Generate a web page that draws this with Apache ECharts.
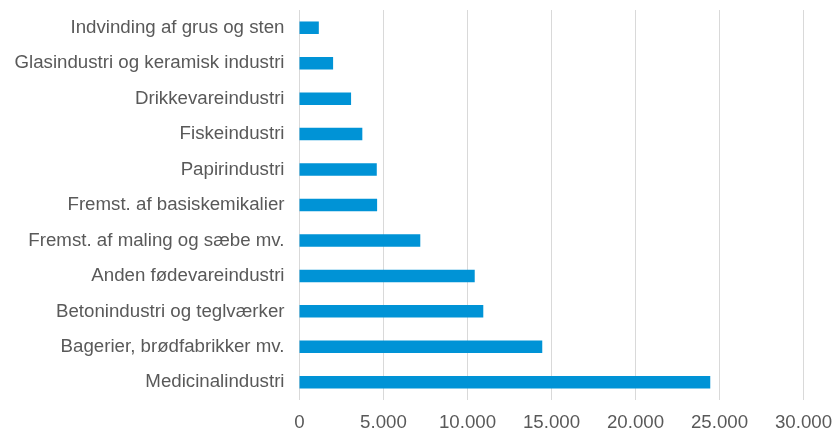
<!DOCTYPE html>
<html>
<head>
<meta charset="utf-8">
<script src="https://cdn.jsdelivr.net/npm/echarts@6/dist/echarts.min.js"></script>
<style>
  html, body { margin: 0; padding: 0; background: #fff; }
  #chart { width: 834px; height: 430px; }
</style>
</head>
<body>
<div id="chart"></div>
<script>
// top to bottom as in the chart
const categories = [
  'Indvinding af grus og sten',
  'Glasindustri og keramisk industri',
  'Drikkevareindustri',
  'Fiskeindustri',
  'Papirindustri',
  'Fremst. af basiskemikalier',
  'Fremst. af maling og sæbe mv.',
  'Anden fødevareindustri',
  'Betonindustri og teglværker',
  'Bagerier, brødfabrikker mv.',
  'Medicinalindustri'
];
const values = [1150, 2000, 3070, 3740, 4600, 4620, 7190, 10430, 10940, 14450, 24450];
const xTicks = [0, 5000, 10000, 15000, 20000, 25000, 30000];

const fmt = v => String(v).replace(/\B(?=(\d{3})+(?!\d))/g, '.');

const chart = echarts.init(document.getElementById('chart'));
chart.setOption({
  backgroundColor: '#fff',
  animation: false,
  textStyle: { fontFamily: '"Liberation Sans", Arial, sans-serif' },
  grid: {
    left: 299.5, right: 30.5, top: 10, bottom: 30,
    containLabel: false,
    outerBoundsMode: 'none'
  },
  xAxis: {
    type: 'value',
    min: xTicks[0],
    max: xTicks[xTicks.length - 1],
    interval: xTicks[1] - xTicks[0],
    axisLine: { show: false },
    axisTick: { show: false },
    axisLabel: {
      color: '#595959',
      fontSize: 18.7,
      margin: 13,
      formatter: fmt
    },
    splitLine: { lineStyle: { color: '#d9d9d9', width: 1 } }
  },
  yAxis: {
    type: 'category',
    inverse: true,
    data: categories,
    axisLine: { show: false },
    axisTick: { show: false },
    axisLabel: {
      color: '#595959',
      fontSize: 18.7,
      margin: 15
    }
  },
  series: [
    {
      type: 'bar',
      data: values,
      barWidth: 12.5,
      itemStyle: { color: '#0093d6' }
    }
  ]
});
</script>
</body>
</html>
